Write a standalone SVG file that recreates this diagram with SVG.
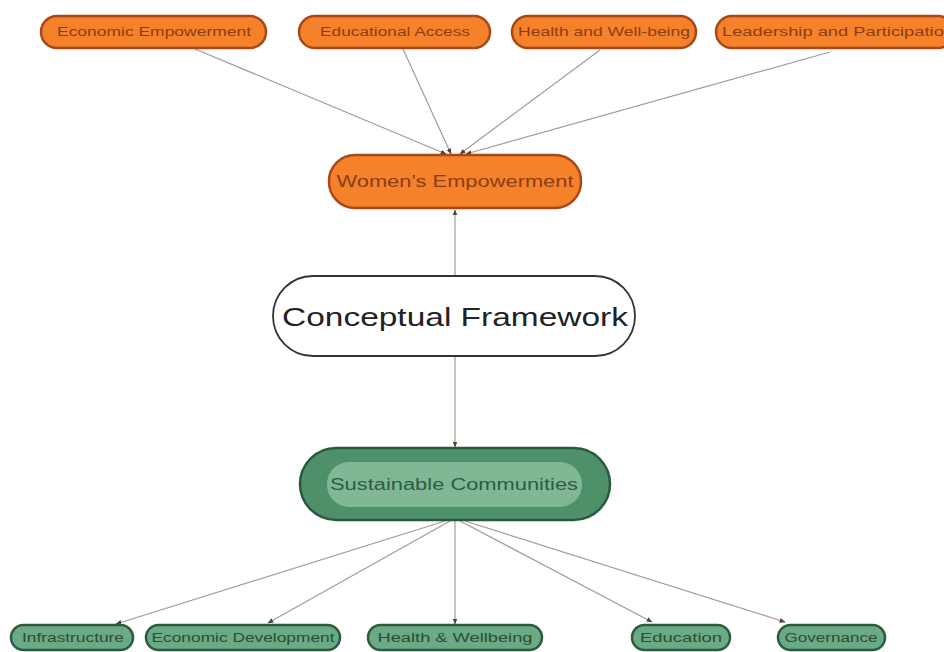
<svg xmlns="http://www.w3.org/2000/svg" width="944" height="652" viewBox="0 0 944 652">
<defs>
<style>
.or{fill:#f5822a;stroke:#a8481a;stroke-width:2.5}
.ot{font-family:"Liberation Sans",Arial,sans-serif;font-size:12px;fill:#8a3c14;text-anchor:middle}
.gr{fill:#6aaa84;stroke:#2d5a40;stroke-width:2.5}
.gt{font-family:"Liberation Sans",Arial,sans-serif;font-size:12px;fill:#2b4d3a;text-anchor:middle}
.ln{stroke:#a89a90;stroke-width:1.2;fill:none;marker-end:url(#ah)}
</style>
<marker id="ah" viewBox="0 0 10 10" refX="9" refY="5" markerWidth="5" markerHeight="5" orient="auto-start-reverse">
<path d="M0,1 L10,5 L0,9 z" fill="#5a4030"/>
</marker>
</defs>
<rect width="944" height="652" fill="#ffffff"/>
<g id="connectors">
<line class="ln" x1="195" y1="49" x2="446" y2="154"/>
<line class="ln" x1="403" y1="49" x2="451" y2="154"/>
<line class="ln" x1="600" y1="50" x2="460" y2="154"/>
<line class="ln" x1="830" y1="52" x2="466" y2="154"/>
<line class="ln" x1="455" y1="276" x2="455" y2="210"/>
<line class="ln" x1="455" y1="357" x2="455" y2="447"/>
<line class="ln" x1="445" y1="521" x2="116" y2="624"/>
<line class="ln" x1="450" y1="521" x2="268" y2="623"/>
<line class="ln" x1="455" y1="521" x2="455" y2="624"/>
<line class="ln" x1="460" y1="521" x2="652" y2="622"/>
<line class="ln" x1="465" y1="521" x2="785" y2="622"/>
</g>
<g id="n-econ-emp"><rect class="or" x="41" y="16" width="225" height="32" rx="16"/><text class="ot" x="154" y="36" textLength="194" lengthAdjust="spacingAndGlyphs">Economic Empowerment</text></g>
<g id="n-edu-access"><rect class="or" x="299" y="16" width="191" height="32" rx="16"/><text class="ot" x="395" y="36" textLength="150" lengthAdjust="spacingAndGlyphs">Educational Access</text></g>
<g id="n-health"><rect class="or" x="512" y="16" width="184" height="32" rx="16"/><text class="ot" x="604" y="36" textLength="172" lengthAdjust="spacingAndGlyphs">Health and Well-being</text></g>
<g id="n-leadership"><rect class="or" x="716" y="16" width="238" height="32" rx="16"/><text class="ot" x="722" y="36" style="text-anchor:start" textLength="232" lengthAdjust="spacingAndGlyphs">Leadership and Participation</text></g>
<g id="n-women"><rect class="or" x="329" y="155" width="252" height="53" rx="26"/><text class="ot" x="455" y="187" style="font-size:16px" textLength="237" lengthAdjust="spacingAndGlyphs">Women's Empowerment</text></g>
<g id="n-concept"><rect x="273" y="276" width="362" height="80" rx="40" fill="#ffffff" stroke="#333333" stroke-width="1.8"/><text x="455" y="326" text-anchor="middle" font-family="Liberation Sans, Arial, sans-serif" font-size="26" fill="#222222" textLength="346" lengthAdjust="spacingAndGlyphs">Conceptual Framework</text></g>
<g id="n-sustain"><rect x="300" y="448" width="310" height="72" rx="36" fill="#4d9069" stroke="#2a5a3e" stroke-width="2.5"/><rect x="327" y="462" width="255" height="45" rx="22" fill="#80b896"/><text class="gt" x="454" y="490" style="font-size:16px;fill:#2f5a44" textLength="248" lengthAdjust="spacingAndGlyphs">Sustainable Communities</text></g>
<g id="n-infra"><rect class="gr" x="11" y="625" width="122" height="25" rx="12.5"/><text class="gt" x="73" y="642" textLength="102" lengthAdjust="spacingAndGlyphs">Infrastructure</text></g>
<g id="n-econ-dev"><rect class="gr" x="146" y="625" width="194" height="25" rx="12.5"/><text class="gt" x="243" y="642" textLength="183" lengthAdjust="spacingAndGlyphs">Economic Development</text></g>
<g id="n-health-wb"><rect class="gr" x="368" y="625" width="174" height="25" rx="12.5"/><text class="gt" x="455" y="642" textLength="155" lengthAdjust="spacingAndGlyphs">Health &amp; Wellbeing</text></g>
<g id="n-education"><rect class="gr" x="632" y="625" width="98" height="25" rx="12.5"/><text class="gt" x="681" y="642" textLength="82" lengthAdjust="spacingAndGlyphs">Education</text></g>
<g id="n-governance"><rect class="gr" x="778" y="625" width="107" height="25" rx="12.5"/><text class="gt" x="831" y="642" textLength="93" lengthAdjust="spacingAndGlyphs">Governance</text></g>
</svg>
